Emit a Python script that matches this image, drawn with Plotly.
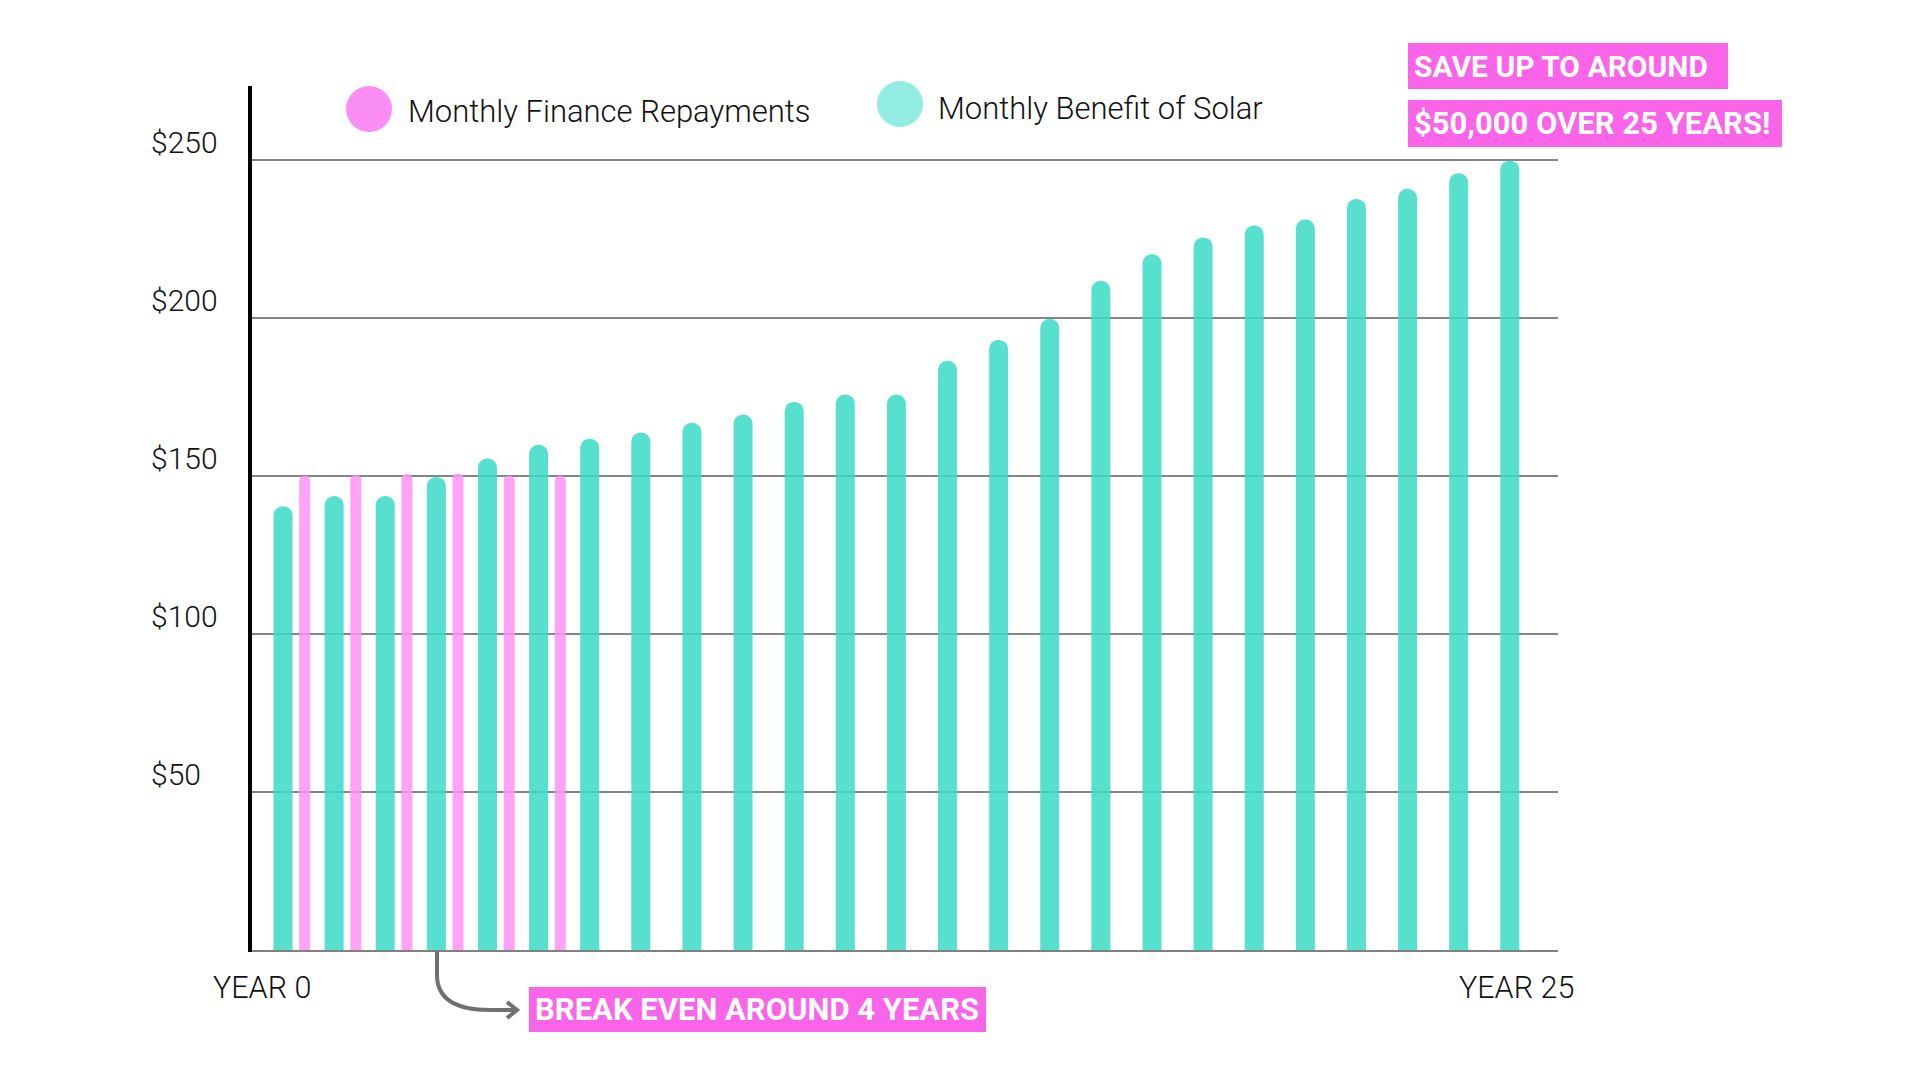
import plotly.graph_objects as go

# ---------------- data ----------------
years = list(range(25))
solar_benefit = [140.4, 143.6, 143.6, 149.6, 155.5, 159.8, 161.7, 163.7, 166.8, 169.4,
                 173.4, 175.7, 175.7, 186.4, 193.0, 199.7, 211.7, 220.1, 225.4, 229.2,
                 231.1, 237.6, 240.8, 245.7, 249.7]
finance_years = [0, 1, 2, 3, 4, 5]
finance_repayments = [150.0, 150.3, 150.5, 150.7, 150.0, 150.0]
series_names = ["Monthly Finance Repayments", "Monthly Benefit of Solar"]
tick_values = [50, 100, 150, 200, 250]
tick_labels = ["$50", "$100", "$150", "$200", "$250"]
x_end_labels = ["YEAR 0", "YEAR 25"]
callouts = ["SAVE UP TO AROUND", "$50,000 OVER 25 YEARS!", "BREAK EVEN AROUND 4 YEARS"]

# ---------------- styling ----------------
TEAL = "rgb(59,219,199)"
PINK = "rgb(255,147,246)"
BOX = "#f964e8"
FONT = "Roboto"

W, H = 1920, 1080
L, R, T, B = 250, 1558, 86, 950  # plot area in pixels


def px(x):
    return (x - L) / (R - L)


def py(y):
    return (B - y) / (B - T)


unit = 51.12  # pixels per year
x_min = -(283 - L) / unit
x_max = 24 + (R - 1509.8) / unit
y_max = (B - T) / 3.161

teal_w = 19 / unit
pink_w = 11 / unit
pink_offset = 0.425 - pink_w / 2

fig = go.Figure()

common = dict(marker_line_width=0, marker_cornerradius="50%", showlegend=False,
              hoverinfo="skip", opacity=0.85)

fig.add_trace(go.Bar(x=years, y=solar_benefit, width=teal_w,
                     marker_color=TEAL, name=series_names[1], **common))
fig.add_trace(go.Bar(x=finance_years, y=finance_repayments, width=pink_w,
                     offset=pink_offset, marker_color=PINK,
                     name=series_names[0], **common))

annotations = []
# y tick labels (left aligned)
for v, t in zip(tick_values, tick_labels):
    annotations.append(dict(x=px(149), xref="paper", y=v, yref="y", text=t,
                            xanchor="left", yanchor="middle", yshift=17, showarrow=False,
                            font=dict(family=FONT, size=30, color="#111111", weight=300)))

# x end labels
for cx, t in zip([262, 1516], x_end_labels):
    annotations.append(dict(x=px(cx), xref="paper", y=py(987), yref="paper", text=t,
                            xanchor="center", yanchor="middle", showarrow=False,
                            font=dict(family=FONT, size=30.5, color="#111111", weight=300)))

# legend texts
for lx, ly, t in [(405.5, 111.5, series_names[0]), (936, 109, series_names[1])]:
    annotations.append(dict(x=px(lx), xref="paper", y=py(ly), yref="paper", text=t,
                            xanchor="left", yanchor="middle", showarrow=False,
                            font=dict(family=FONT, size=31, color="#111111", weight=300)))

# callout boxes
pad = 6
for (bx, by, bw, bh, fs), t in zip([(1408, 43, 320, 46, 30),
                                    (1408, 100, 374, 47, 31),
                                    (529, 987, 457, 45, 31)], callouts):
    annotations.append(dict(x=px(bx), xref="paper", y=py(by), yref="paper", text=t,
                            xanchor="left", yanchor="top", showarrow=False,
                            width=bw - 2 * pad, height=bh - 2 * pad, borderpad=pad,
                            borderwidth=0, bgcolor=BOX, align="left", valign="middle",
                            font=dict(family=FONT, size=fs, color="white", weight=700)))

shapes = []
# vertical axis line (black)
shapes.append(dict(type="line", xref="paper", yref="paper",
                   x0=px(250), x1=px(250), y0=py(952), y1=py(86),
                   line=dict(color="black", width=4), layer="above"))
# legend dots
for cx, cy, col in [(369, 109, "#fb8ef2"), (900, 104, "#93ece1")]:
    r = 23
    shapes.append(dict(type="circle", xref="paper", yref="paper",
                       x0=px(cx - r), x1=px(cx + r), y0=py(cy + r), y1=py(cy - r),
                       fillcolor=col, line_width=0, layer="above"))

# curved arrow
path = (f"M {px(437)} {py(951)} L {px(437)} {py(975)} "
        f"C {px(437)} {py(1000)} {px(458)} {py(1010)} {px(490)} {py(1010)} "
        f"L {px(516)} {py(1010)}")
shapes.append(dict(type="path", xref="paper", yref="paper", path=path,
                   line=dict(color="#707070", width=4), layer="above"))
head = (f"M {px(507)} {py(1002)} L {px(517)} {py(1010)} L {px(507)} {py(1018)}")
shapes.append(dict(type="path", xref="paper", yref="paper", path=head,
                   line=dict(color="#707070", width=4), layer="above"))

fig.update_layout(
    width=W, height=H,
    margin=dict(l=L, r=W - R, t=T, b=H - B, pad=0),
    paper_bgcolor="white", plot_bgcolor="white",
    barmode="overlay",
    xaxis=dict(range=[x_min, x_max], showgrid=False, zeroline=False,
               showticklabels=False, ticks="", showline=True,
               linecolor="#808080", linewidth=2),
    yaxis=dict(range=[0, y_max], tickvals=tick_values, showticklabels=False,
               showgrid=True, gridcolor="#858585", gridwidth=2, zeroline=False,
               ticks="", showline=False),
    annotations=annotations,
    shapes=shapes,
    showlegend=False,
)

fig.write_html("out.html")
